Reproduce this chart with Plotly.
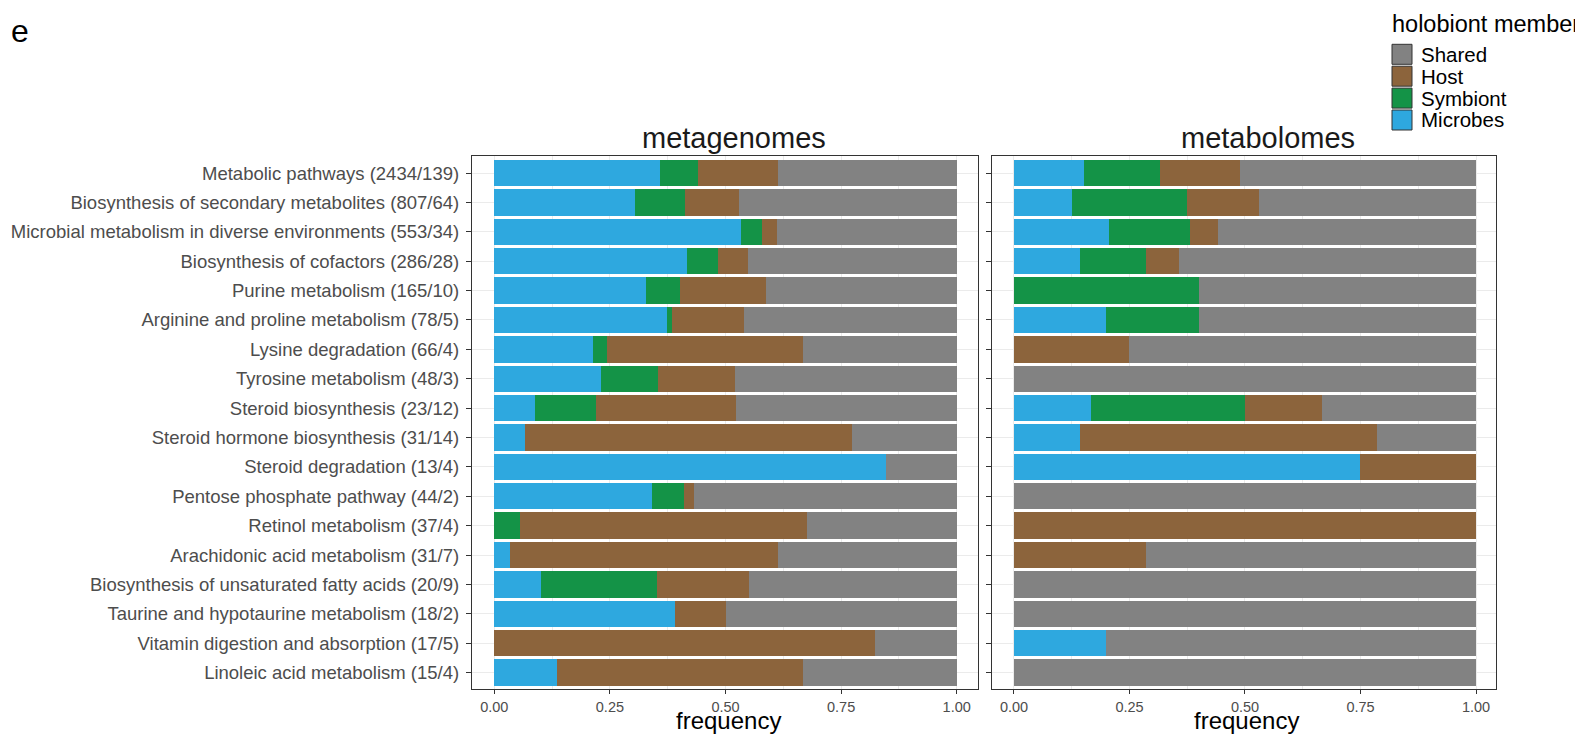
import plotly.graph_objects as go

categories = [
    "Metabolic pathways (2434/139)",
    "Biosynthesis of secondary metabolites (807/64)",
    "Microbial metabolism in diverse environments (553/34)",
    "Biosynthesis of cofactors (286/28)",
    "Purine metabolism (165/10)",
    "Arginine and proline metabolism (78/5)",
    "Lysine degradation (66/4)",
    "Tyrosine metabolism (48/3)",
    "Steroid biosynthesis (23/12)",
    "Steroid hormone biosynthesis (31/14)",
    "Steroid degradation (13/4)",
    "Pentose phosphate pathway (44/2)",
    "Retinol metabolism (37/4)",
    "Arachidonic acid metabolism (31/7)",
    "Biosynthesis of unsaturated fatty acids (20/9)",
    "Taurine and hypotaurine metabolism (18/2)",
    "Vitamin digestion and absorption (17/5)",
    "Linoleic acid metabolism (15/4)",
]

# metagenomes
mg_microbes = [.358, .304, .534, .417, .328, .373, .213, .231, .088, .066, .847, .341, 0, .034, .101, .391, 0, .135]
mg_symbiont = [.082, .108, .045, .067, .074, .011, .031, .123, .132, 0, 0, .069, .055, 0, .251, 0, 0, 0]
mg_host = [.174, .117, .032, .065, .186, .156, .424, .167, .303, .708, 0, .022, .621, .580, .199, .110, .823, .533]
mg_shared = [.386, .471, .389, .451, .412, .460, .332, .479, .477, .226, .153, .568, .324, .386, .449, .499, .177, .332]

# metabolomes
mb_microbes = [.151, .125, .206, .143, 0, .2, 0, 0, .167, .143, .75, 0, 0, 0, 0, 0, .2, 0]
mb_symbiont = [.166, .250, .176, .143, .4, .2, 0, 0, .333, 0, 0, 0, 0, 0, 0, 0, 0, 0]
mb_host = [.172, .156, .059, .071, 0, 0, .25, 0, .167, .643, .25, 0, 1, .286, 0, 0, 0, 0]
mb_shared = [.511, .469, .559, .643, .6, .6, .75, 1, .333, .214, 0, 1, 0, .714, 1, 1, .8, 1]

members = ["Microbes", "Symbiont", "Host", "Shared"]
legend_order = ["Shared", "Host", "Symbiont", "Microbes"]
colors = {"Microbes": "#2EA8DF", "Symbiont": "#149347", "Host": "#8C643C", "Shared": "#828282"}
facets = ["metagenomes", "metabolomes"]
x_ticks = [0, 0.25, 0.5, 0.75, 1.0]
x_ticktext = ["0.00", "0.25", "0.50", "0.75", "1.00"]

panel_data = {
    "metagenomes": {"Microbes": mg_microbes, "Symbiont": mg_symbiont, "Host": mg_host, "Shared": mg_shared},
    "metabolomes": {"Microbes": mb_microbes, "Symbiont": mb_symbiont, "Host": mb_host, "Shared": mb_shared},
}

# page body has a default 8px margin; size the figure to fill the rest of the window
OFF = 8
W, H = 1583 - OFF, 735 - OFF
FONT = "Liberation Sans, Arial, Helvetica, sans-serif"

fig = go.Figure()
axes = [("x", "y"), ("x2", "y2")]
for (xa, ya), facet in zip(axes, facets):
    for m in members:
        fig.add_trace(go.Bar(
            y=categories, x=panel_data[facet][m], orientation="h", name=m,
            marker=dict(color=colors[m], line=dict(width=0)),
            showlegend=False, xaxis=xa, yaxis=ya,
            hovertemplate="%{y}<br>" + m + ": %{x}<extra>" + facet + "</extra>",
        ))

def px(x):
    return (x - OFF) / W

def py(y):
    return 1 - (y - OFF) / H

panel_x = [(472, 978), (992, 1496)]
x_ranges = [[-0.0482, 1.046], [-0.0476, 1.0433]]
y_top, y_bot = 156, 689

common_x = dict(
    tickvals=x_ticks, ticktext=x_ticktext, ticks="outside", ticklen=4, tickwidth=1.2,
    tickcolor="#333333", showline=True, mirror=True, linecolor="#333333", linewidth=1.3,
    showgrid=True, gridcolor="#EBEBEB", gridwidth=1.4, zeroline=False, automargin=False,
    minor=dict(tickvals=[0.125, 0.375, 0.625, 0.875], showgrid=True, gridcolor="#EBEBEB", gridwidth=0.7, ticks=""),
    tickfont=dict(family=FONT, size=14.5, color="#4D4D4D"), fixedrange=True,
)
common_y = dict(
    type="category", categoryorder="array", categoryarray=categories,
    range=[17.56, -0.58], ticks="outside", ticklen=5, tickwidth=1.2, tickcolor="#333333",
    showline=True, mirror=True, linecolor="#333333", linewidth=1.3, automargin=False,
    showgrid=True, gridcolor="#EBEBEB", gridwidth=1.4, zeroline=False, fixedrange=True,
    tickfont=dict(family=FONT, size=18.5, color="#4D4D4D"),
)

fig.update_layout(
    width=W, height=H, margin=dict(l=0, r=0, t=0, b=0, autoexpand=False),
    paper_bgcolor="white", plot_bgcolor="white",
    barmode="stack", bargap=0.1, showlegend=False,
    font=dict(family=FONT, color="black"),
    xaxis=dict(domain=[px(panel_x[0][0]), px(panel_x[0][1])], range=x_ranges[0], anchor="y", **common_x),
    xaxis2=dict(domain=[px(panel_x[1][0]), px(panel_x[1][1])], range=x_ranges[1], anchor="y2", **common_x),
    yaxis=dict(domain=[py(y_bot), py(y_top)], anchor="x", showticklabels=True, ticklabelstandoff=3, **common_y),
    yaxis2=dict(domain=[py(y_bot), py(y_top)], anchor="x2", showticklabels=False, **common_y),
)

annotations = []
# facet titles
for facet, cx in zip(facets, [734, 1268]):
    annotations.append(dict(text=facet, x=px(cx), y=py(137.5), xref="paper", yref="paper",
                            xanchor="center", yanchor="middle", showarrow=False,
                            font=dict(family=FONT, size=29, color="#1A1A1A")))
# x axis titles
for cx in [728, 1246]:
    annotations.append(dict(text="frequency", x=px(cx), y=py(720), xref="paper", yref="paper",
                            xanchor="center", yanchor="middle", showarrow=False,
                            font=dict(family=FONT, size=24, color="black")))
# panel tag
annotations.append(dict(text="e", x=px(19.5), y=py(31), xref="paper", yref="paper",
                        xanchor="center", yanchor="middle", showarrow=False,
                        font=dict(family=FONT, size=32, color="black")))
# legend
annotations.append(dict(text="holobiont member", x=px(1390), y=py(23.5), xref="paper", yref="paper",
                        xanchor="left", yanchor="middle", showarrow=False,
                        font=dict(family=FONT, size=23.5, color="black")))
shapes = []
key_top = 44.3
step = 21.9
for i, m in enumerate(legend_order):
    t = key_top + i * step
    shapes.append(dict(type="rect", xref="paper", yref="paper",
                       x0=px(1392), x1=px(1412), y0=py(t + 20), y1=py(t),
                       fillcolor=colors[m], line=dict(color="#333333", width=1)))
    annotations.append(dict(text=m, x=px(1419), y=py(t + 10), xref="paper", yref="paper",
                            xanchor="left", yanchor="middle", showarrow=False,
                            font=dict(family=FONT, size=20.5, color="black")))

fig.update_layout(annotations=annotations, shapes=shapes)
fig.write_html("out.html")
